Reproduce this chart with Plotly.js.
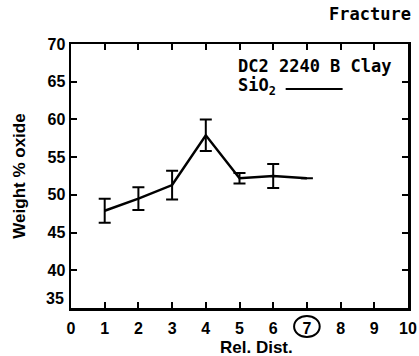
<!DOCTYPE html>
<html>
<head>
<meta charset="utf-8">
<script src="https://cdn.plot.ly/plotly-3.0.1.min.js"></script>
<style>html,body{margin:0;padding:0;background:#fff;}#chart{width:419px;height:356px;}</style>
</head>
<body>
<div id="chart"></div>
<script>
// Data
const relDist = [1, 2, 3, 4, 5, 6, 7];
const sio2 = [47.9, 49.5, 51.3, 57.9, 52.2, 52.5, 52.2];
const sio2Err = [1.6, 1.5, 1.9, 2.1, 0.7, 1.6, 0];
const xTickVals = [0, 1, 2, 3, 4, 5, 6, 7, 8, 9, 10];
const xTickText = ['0', '1', '2', '3', '4', '5', '6', '7', '8', '9', '10'];
const yTickVals = [40, 45, 50, 55, 60, 65, 70];
const yTickText = ['40', '45', '50', '55', '60', '65', '70'];
const yLowLabel = '35';
const circledTick = 7;
const legendTitle = 'DC2 2240 B Clay';
const seriesName = 'SiO<sub>2</sub>';
const cornerNote = 'Fracture';

const tickFont = {family: 'Liberation Sans, Arial, sans-serif', size: 16, color: '#000', weight: 'bold'};
const titleFont = {family: 'Liberation Sans, Arial, sans-serif', size: 17, color: '#000', weight: 'bold'};
const monoFont = {family: 'DejaVu Sans Mono, monospace', size: 17, color: '#000', weight: 'bold'};

const trace = {
  x: relDist, y: sio2, type: 'scatter', mode: 'lines',
  line: {color: '#000', width: 2.5},
  error_y: {type: 'data', array: sio2Err, visible: true, color: '#000', thickness: 2, width: 6},
  showlegend: false, hoverinfo: 'skip'
};

const layout = {
  width: 419, height: 356,
  margin: {l: 71, r: 11, t: 44, b: 48},
  paper_bgcolor: '#fff', plot_bgcolor: '#fff',
  showlegend: false,
  xaxis: {
    range: [0, 10], tickvals: xTickVals, ticktext: xTickText,
    ticks: 'inside', ticklen: 6, tickwidth: 2, tickcolor: '#000',
    showline: true, linecolor: '#000', linewidth: 2.5, mirror: 'ticks',
    showgrid: false, zeroline: false, tickfont: tickFont, ticklabelstandoff: 4
  },
  yaxis: {
    range: [35, 70], tickvals: yTickVals, ticktext: yTickText,
    ticks: 'inside', ticklen: 6, tickwidth: 2, tickcolor: '#000',
    showline: true, linecolor: '#000', linewidth: 2.5, mirror: 'ticks',
    showgrid: false, zeroline: false, tickfont: tickFont,
    title: {text: 'Weight % oxide', font: titleFont, standoff: 18}
  },
  shapes: [
    {type: 'circle', xref: 'x', yref: 'paper', ysizemode: 'pixel', yanchor: 0,
     x0: circledTick - 0.38, x1: circledTick + 0.38, y0: -29, y1: -8,
     line: {color: '#000', width: 2}},
    {type: 'line', xref: 'paper', yref: 'paper', x0: 0.637, x1: 0.806, y0: 0.83, y1: 0.83,
     line: {color: '#000', width: 2}}
  ],
  annotations: [
    {text: yLowLabel, xref: 'paper', yref: 'y', x: 0, y: 36.3, xanchor: 'right', yanchor: 'middle', xshift: -5, showarrow: false, font: tickFont},
    {text: 'Rel. Dist.', xref: 'paper', yref: 'paper', x: 0.549, y: 0, xanchor: 'center', yanchor: 'top', yshift: -28, showarrow: false, font: titleFont},
    {text: legendTitle, xref: 'paper', yref: 'paper', x: 0.49, y: 0.915, xanchor: 'left', yanchor: 'middle', showarrow: false, font: monoFont},
    {text: seriesName, xref: 'paper', yref: 'paper', x: 0.49, y: 0.838, xanchor: 'left', yanchor: 'middle', showarrow: false, font: monoFont},
    {text: cornerNote, xref: 'paper', yref: 'paper', x: 1.015, y: 1.114, xanchor: 'right', yanchor: 'middle', showarrow: false, font: monoFont}
  ]
};

Plotly.newPlot('chart', [trace], layout, {displayModeBar: false, staticPlot: true});
</script>
</body>
</html>
